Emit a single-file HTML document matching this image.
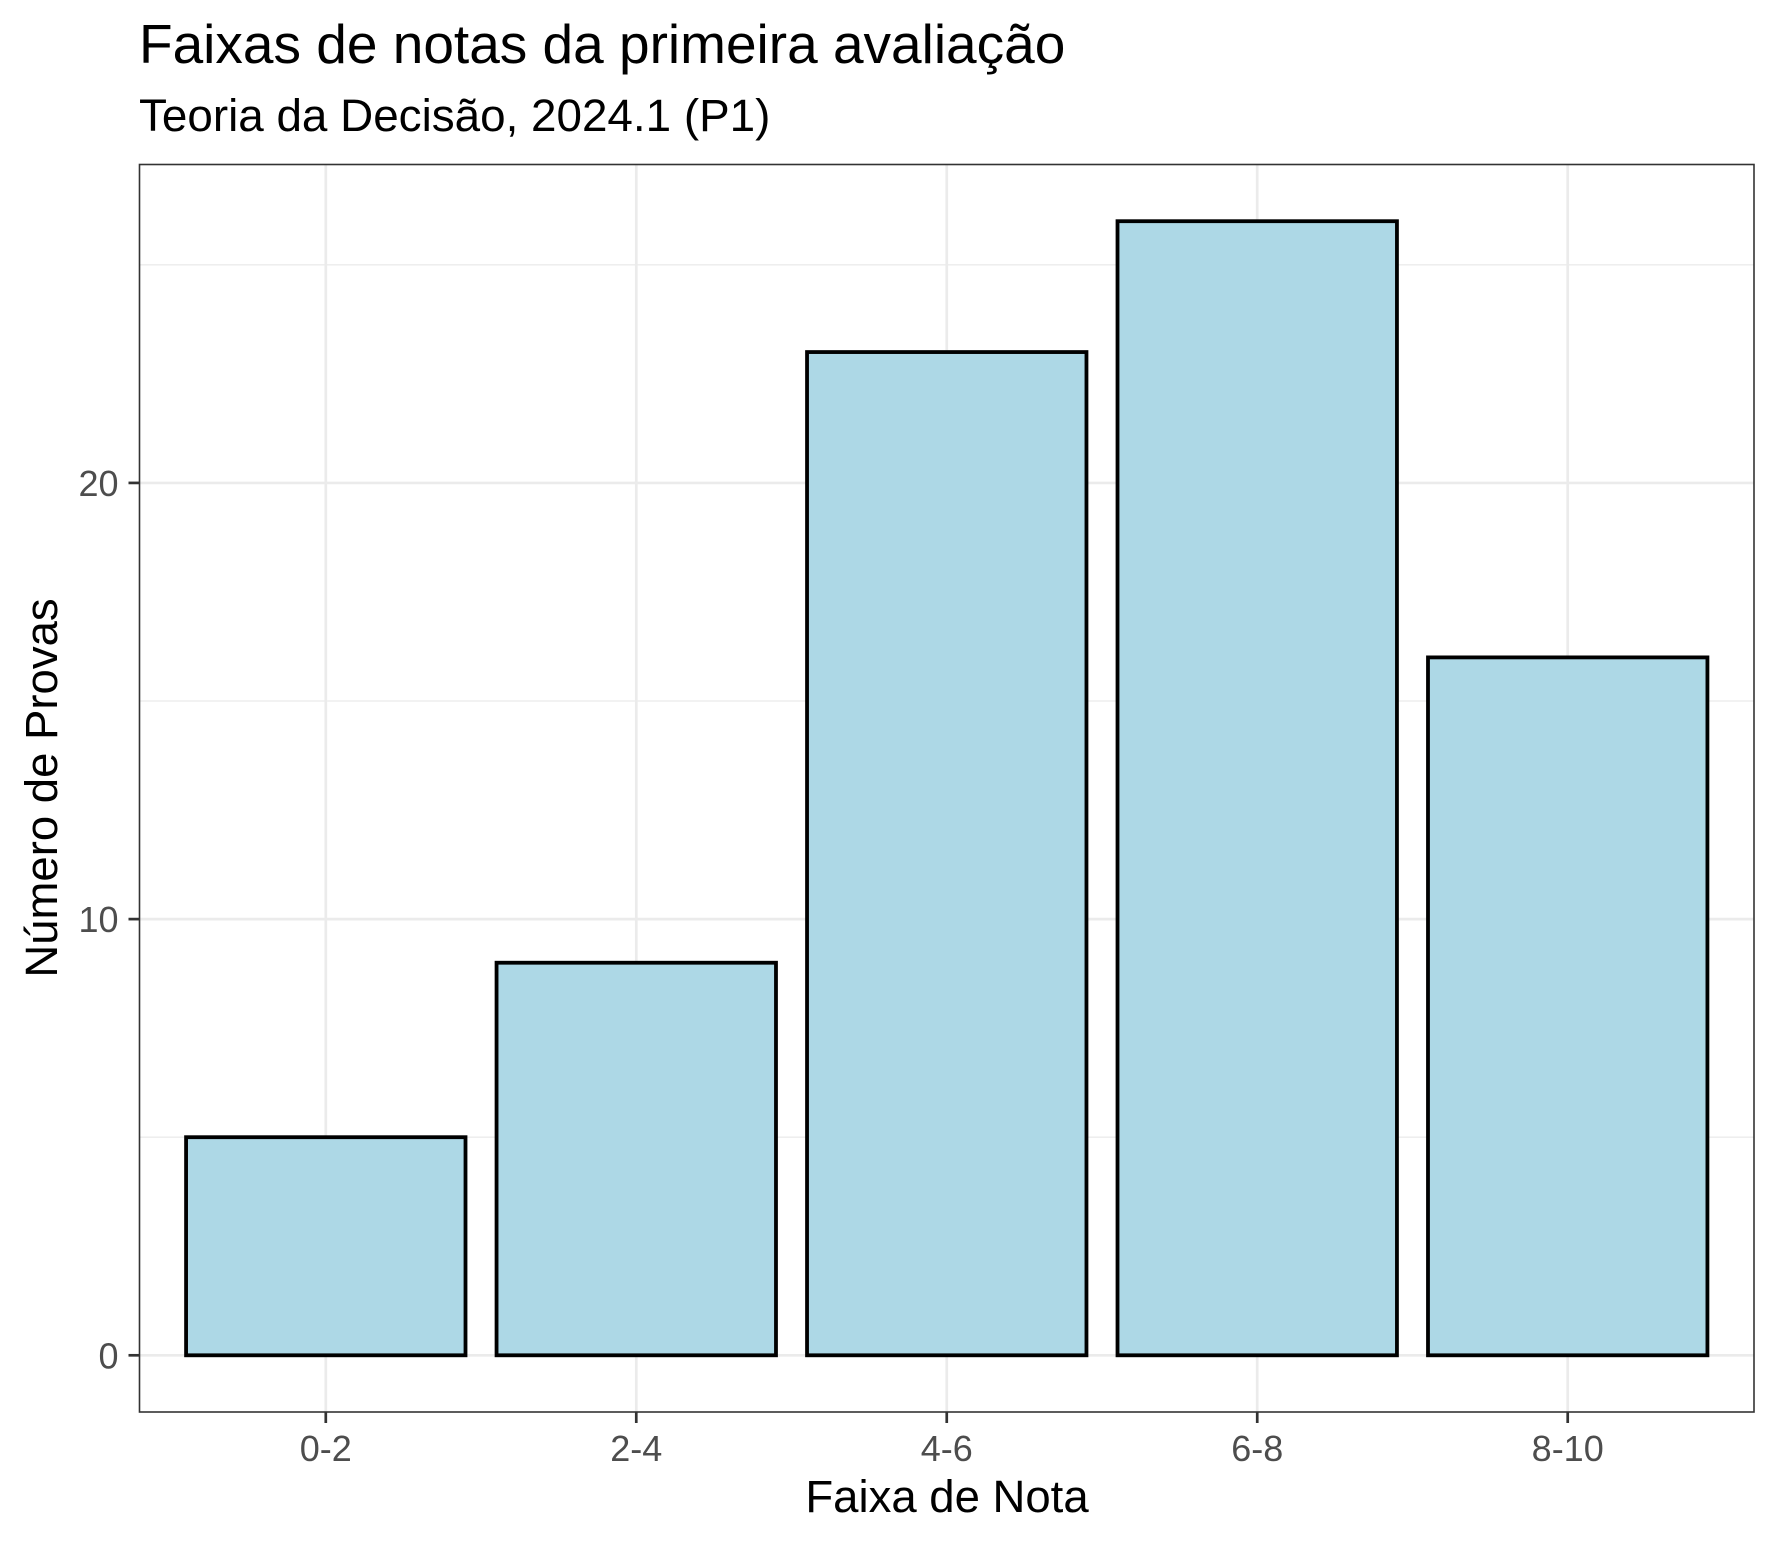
<!DOCTYPE html>
<html><head><meta charset="utf-8"><style>
html,body{margin:0;padding:0;background:#fff;}
svg{display:block;font-family:"Liberation Sans",Arial,sans-serif;}
</style></head><body>
<svg id="chart" width="1779" height="1545" viewBox="0 0 1779 1545" xmlns="http://www.w3.org/2000/svg">
<rect x="0" y="0" width="1779" height="1545" fill="#fff"/>
<text x="139" y="63" font-size="55" fill="#000">Faixas de notas da primeira avaliação</text>
<text x="139" y="131" font-size="45.8" fill="#000">Teoria da Decisão, 2024.1 (P1)</text>
<g id="grid"></g>
<g id="bars"></g>
<rect x="139.5" y="164.5" width="1614.5" height="1247.5" fill="none" stroke="#333" stroke-width="1.6"/>
<g id="axes"></g>
<text x="947" y="1512" font-size="45.5" text-anchor="middle" fill="#000">Faixa de Nota</text>
<text transform="translate(57,788) rotate(-90)" font-size="45.5" text-anchor="middle" fill="#000">Número de Provas</text>
</svg>
<script>
const categories = ["0-2","2-4","4-6","6-8","8-10"];
const counts = [5, 9, 23, 26, 16];
const yTicks = [0, 10, 20];
const yMinor = [5, 15, 25];

const NS = "http://www.w3.org/2000/svg";
const panel = {left:139.5, right:1754, top:164.5, bottom:1412};
const yMax = Math.max(...counts) * 1.05, yMin = -Math.max(...counts) * 0.05;
function y(v){ return panel.bottom - (v - yMin) / (yMax - yMin) * (panel.bottom - panel.top); }
const step = (panel.right - panel.left) / (categories.length - 1 + 1.2);
function x(i){ return panel.left + step * (0.6 + i); }
function mk(tag, attrs, parent){ const e = document.createElementNS(NS, tag); for (const k in attrs) e.setAttribute(k, attrs[k]); parent.appendChild(e); return e; }

const grid = document.getElementById('grid');
yMinor.forEach(v => {
  const l = mk('line', {x1:panel.left, x2:panel.right, y1:y(v), y2:y(v), stroke:'#ebebeb', 'stroke-width':1.3}, grid);
  
  
});
yTicks.forEach(v => {
  const l = mk('line', {x1:panel.left, x2:panel.right, y1:y(v), y2:y(v), stroke:'#ebebeb', 'stroke-width':2.7}, grid);
  
  
});
categories.forEach((c, i) => {
  const l = mk('line', {x1:x(i), x2:x(i), y1:panel.top, y2:panel.bottom, stroke:'#ebebeb', 'stroke-width':2.7}, grid);
  
  
});

const bars = document.getElementById('bars');
const bw = step * 0.9;
counts.forEach((v, i) => {
  const r = mk('rect', {x:x(i) - bw/2, y:y(v), width:bw, height:y(0) - y(v), fill:'#add8e6', stroke:'#000', 'stroke-width':3.8}, bars);
  
  
});

const axes = document.getElementById('axes');
yTicks.forEach(v => {
  const t = mk('line', {x1:panel.left - 11, x2:panel.left, y1:y(v), y2:y(v), stroke:'#333', 'stroke-width':2.7}, axes);
  
  
  const lb = mk('text', {x:panel.left - 21, y:y(v) + 13, 'font-size':36, 'text-anchor':'end', fill:'#4d4d4d'}, axes);
  lb.textContent = v;
  
  
});
categories.forEach((c, i) => {
  const t = mk('line', {x1:x(i), x2:x(i), y1:panel.bottom, y2:panel.bottom + 11, stroke:'#333', 'stroke-width':2.7}, axes);
  
  
  const lb = mk('text', {x:x(i), y:1461, 'font-size':36, 'text-anchor':'middle', fill:'#4d4d4d'}, axes);
  lb.textContent = c;
  
  
});
</script>
</body></html>
